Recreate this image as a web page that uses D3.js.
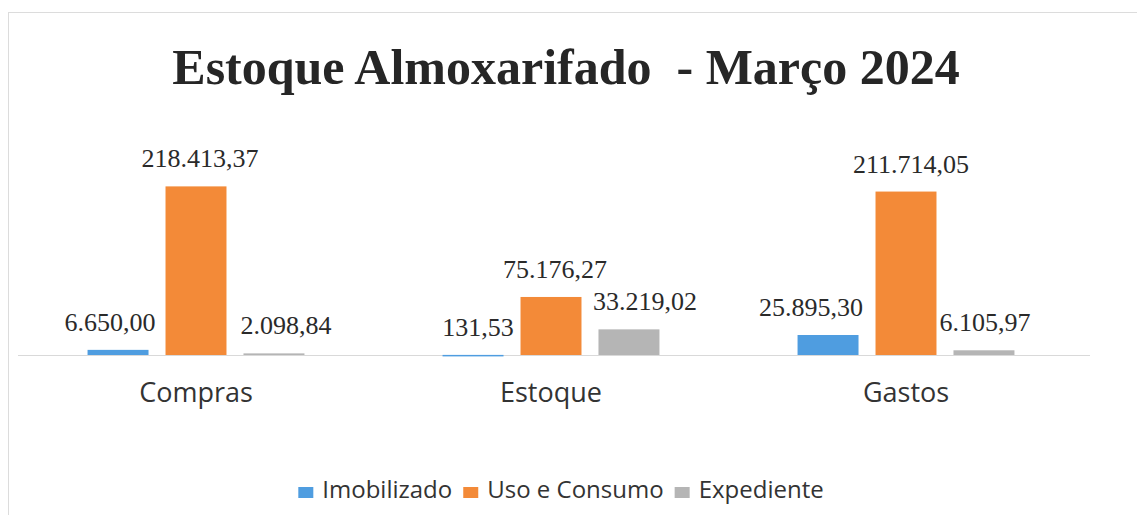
<!DOCTYPE html>
<html>
<head>
<meta charset="utf-8">
<script src="https://cdn.jsdelivr.net/npm/d3@7"></script>
<style>
  body { margin: 0; background: #fff; }
</style>
</head>
<body>
<div id="chart"></div>
<script>
const title      = 'Estoque Almoxarifado  - Março 2024'
const categories = ['Compras', 'Estoque', 'Gastos']
const seriesNames = ['Imobilizado', 'Uso e Consumo', 'Expediente']
const imobilizado = [6650.00, 131.53, 25895.30]
const usoConsumo  = [218413.37, 75176.27, 211714.05]
const expediente  = [2098.84, 33219.02, 6105.97]
const colors      = ['#4f9de0', '#f38a38', '#b5b5b5']

const W = 1137, H = 515
const series = [imobilizado, usoConsumo, expediente]

// hand-placed label nudges (px), by series then category, like the moved labels in the original
const labelNudge = [[-8, 5, -17], [4, 4, 5], [12, 16, 1]]

const svg = d3.select('#chart').append('svg').attr('width', W).attr('height', H)

// light frame of the chart area
svg.append('rect').attr('x', 8.5).attr('y', 12.5).attr('width', W).attr('height', H)
  .attr('fill', 'none').attr('stroke', '#dcdcdc')

svg.append('text')
  .attr('x', 566).attr('y', 84)
  .attr('text-anchor', 'middle')
  .style('font-family', '"Liberation Serif", "Times New Roman", serif')
  .style('font-weight', 'bold')
  .style('font-size', '50px')
  .attr('fill', '#262626')
  .attr('xml:space', 'preserve')
  .text(title)

var x0 = d3.scaleBand().domain(categories).range([18.5, 1083.5]).paddingInner(0.389).paddingOuter(0.1945)
var x1 = d3.scaleBand().domain(seriesNames).range([0, x0.bandwidth()]).paddingInner(0.218).paddingOuter(0)
var y  = d3.scaleLinear().domain([0, 250000]).range([355, 162])

var fmt = d3.formatLocale({decimal: ',', thousands: '.', grouping: [3], currency: ['', '']}).format(',.2f')

// baseline
svg.append('line').attr('x1', 18).attr('x2', 1090).attr('y1', y(0) + 0.5).attr('y2', y(0) + 0.5)
  .attr('stroke', '#d9d9d9')

var groups = svg.selectAll('g.cat').data(categories).enter().append('g')
  .attr('class', 'cat')
  .attr('transform', d => 'translate(' + x0(d) + ',0)')

groups.each(function(cat, ci) {
  var g = d3.select(this)
  seriesNames.forEach(function(s, si) {
    var v = series[si][ci]
    g.append('rect')
      .attr('x', x1(s)).attr('width', x1.bandwidth())
      .attr('y', y(v)).attr('height', Math.max(y(0) - y(v), 1.5))
      .attr('fill', colors[si])
    g.append('text')
      .attr('x', x1(s) + x1.bandwidth() / 2 + labelNudge[si][ci])
      .attr('y', y(v) - 19)
      .attr('text-anchor', 'middle')
      .style('font-family', '"Liberation Serif", "Times New Roman", serif')
      .style('font-size', '26px')
      .attr('fill', '#2a2a2a')
      .text(fmt(v))
  })
})

// category labels
svg.selectAll('text.cat').data(categories).enter().append('text')
  .attr('class', 'cat')
  .attr('x', d => x0(d) + x0.bandwidth() / 2)
  .attr('y', 402)
  .attr('text-anchor', 'middle')
  .style('font-family', '"Open Sans", sans-serif')
  .style('font-size', '27px')
  .attr('fill', '#333')
  .text(d => d)

// legend
var legend = svg.append('g')
var lx = 0
seriesNames.forEach(function(s, i) {
  var item = legend.append('g').attr('transform', 'translate(' + lx + ',0)')
  item.append('rect').attr('x', 0).attr('y', -11).attr('width', 15).attr('height', 11).attr('fill', colors[i])
  var t = item.append('text').attr('x', 24).attr('y', 0)
    .style('font-family', '"Open Sans", sans-serif')
    .style('font-size', '24px')
    .attr('fill', '#333')
    .text(s)
  lx += 24 + t.node().getComputedTextLength() + 11
})
var legendWidth = lx - 11
legend.attr('transform', 'translate(' + (561 - legendWidth / 2) + ',498)')
</script>
</body>
</html>
